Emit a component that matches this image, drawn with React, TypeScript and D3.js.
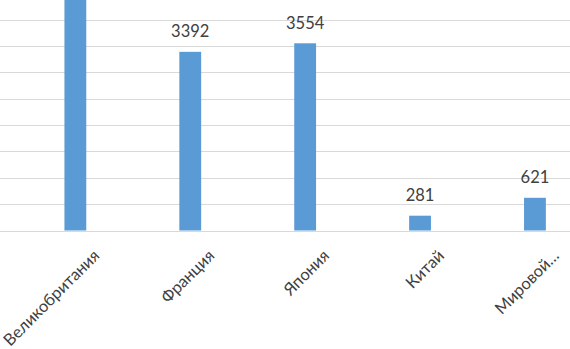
import React, { useEffect, useRef } from 'react'
import * as d3 from 'd3'

const categories = ['Великобритания', 'Франция', 'Япония', 'Китай', 'Мировой…']
const values = [4800, 3392, 3554, 281, 621]
const gridTicks = [0, 500, 1000, 1500, 2000, 2500, 3000, 3500, 4000, 4500]

const W = 570
const H = 349

export default function App() {
  const svgRef = useRef<SVGSVGElement>(null)

  useEffect(() => {
    const svg = d3.select(svgRef.current)
    svg.selectAll('*').remove()

    const data = categories.map((c, i) => ({ name: c, value: values[i] }))

    // plot area is cropped at the top and sides in the reference
    const x = d3.scaleBand()
      .domain(categories)
      .range([17.9, 592.4])
      .paddingInner(0.81)
      .paddingOuter(0.405)

    const y = d3.scaleLinear()
      .domain([0, 4000])
      .range([230.5, 19.8])

    // gridlines
    svg.append('g')
      .selectAll('line')
      .data(gridTicks)
      .enter().append('line')
      .attr('x1', 0)
      .attr('x2', W)
      .attr('y1', d => Math.round(y(d)) + 0.5)
      .attr('y2', d => Math.round(y(d)) + 0.5)
      .attr('stroke', '#d9d9d9')
      .attr('stroke-width', 1.2)

    // bars
    svg.append('g')
      .selectAll('rect')
      .data(data)
      .enter().append('rect')
      .attr('x', d => x(d.name)!)
      .attr('width', x.bandwidth())
      .attr('y', d => y(d.value))
      .attr('height', d => y(0) - y(d.value))
      .attr('fill', '#5b9bd5')

    // value labels
    svg.append('g')
      .selectAll('text')
      .data(data)
      .enter().append('text')
      .attr('x', d => x(d.name)! + x.bandwidth() / 2)
      .attr('y', d => y(d.value) - 14.5)
      .attr('text-anchor', 'middle')
      .attr('font-family', 'Lato, sans-serif')
      .attr('font-size', 16.5)
      .attr('fill', '#404040')
      .text(d => d.value)

    // category labels, rotated
    svg.append('g')
      .selectAll('text')
      .data(data)
      .enter().append('text')
      .attr('transform', d => `translate(${x(d.name)! + x.bandwidth() / 2 + 17},${y(0) + 18}) rotate(-45)`)
      .attr('text-anchor', 'end')
      .attr('dy', '0.7em')
      .attr('font-family', 'Lato, sans-serif')
      .attr('font-size', 16.5)
      .attr('fill', '#404040')
      .text(d => d.name)
  }, [])

  return (
    <svg ref={svgRef} width={W} height={H}
      style={{ position: 'absolute', left: 0, top: 0, background: '#fff' }} />
  )
}
